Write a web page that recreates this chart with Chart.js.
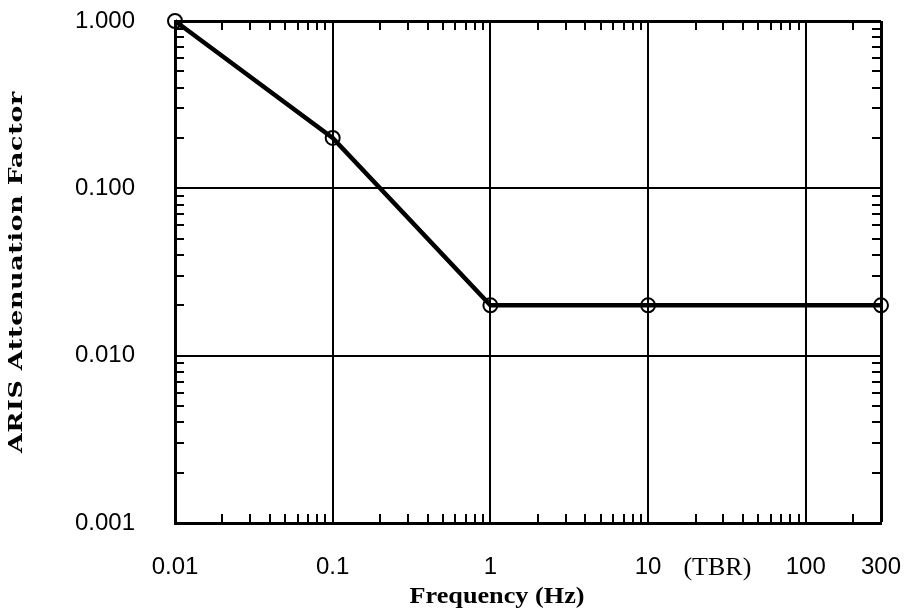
<!DOCTYPE html>
<html>
<head>
<meta charset="utf-8">
<script src="https://cdn.jsdelivr.net/npm/chart.js@4.4.1/dist/chart.umd.min.js"></script>
<style>
  html, body { margin: 0; padding: 0; background: #fff; }
  #wrap { width: 912px; height: 608px; }
</style>
</head>
<body>
<div id="wrap"><canvas id="chart" width="912" height="608"></canvas></div>
<script>
// attenuation factor vs frequency
const freqs = [0.01, 0.1, 1, 10, 300];
const factors = [1, 0.2, 0.02, 0.02, 0.02];

const xTickValues = [0.01, 0.1, 1, 10, 100, 300];
const xTickLabels = ['0.01', '0.1', '1', '10', '100', '300'];
const yTickValues = [1, 0.1, 0.01, 0.001];
const yTickLabels = ['1.000', '0.100', '0.010', '0.001'];

const noteText = '(TBR)';
const noteAt = 27.5;
const xTitle = 'Frequency (Hz)';
const yTitle = 'ARIS Attenuation Factor';

// 2..9 within each decade, kept inside the axis range
function minorTicks(lo, hi) {
    let out = [];
    for (let d = lo; d < hi; d *= 10) {
        for (let k = 2; k <= 9; k++) {
            let v = +(k * d).toPrecision(3);
            if (v < hi) out.push(v);
        }
    }
    return out;
}

const frame = {
    id: 'frame',
    afterDraw(chart) {
        let ctx = chart.ctx;
        let a = chart.chartArea;
        let xs = chart.scales.x, ys = chart.scales.y;
        let len = 9;
        ctx.save();
        ctx.strokeStyle = '#000';
        ctx.lineWidth = 2;
        ctx.beginPath();
        minorTicks(0.01, 300).forEach(v => {
            let px = Math.round(xs.getPixelForValue(v));
            ctx.moveTo(px, a.bottom); ctx.lineTo(px, a.bottom - len);
            ctx.moveTo(px, a.top); ctx.lineTo(px, a.top + len);
        });
        minorTicks(0.001, 1).forEach(v => {
            let py = Math.round(ys.getPixelForValue(v));
            ctx.moveTo(a.left, py); ctx.lineTo(a.left + len, py);
            ctx.moveTo(a.right, py); ctx.lineTo(a.right - len, py);
        });
        ctx.stroke();

        ctx.fillStyle = '#000';
        ctx.textAlign = 'center';
        ctx.textBaseline = 'alphabetic';
        ctx.font = '26px "Liberation Serif", "Times New Roman", serif';
        ctx.fillText(noteText, xs.getPixelForValue(noteAt), 575);

        // axis titles are set wide
        ctx.save();
        ctx.translate(497, 603);
        ctx.scale(1.14, 1);
        ctx.font = 'bold 23px "Liberation Serif", "Times New Roman", serif';
        ctx.fillText(xTitle, 0, 0);
        ctx.restore();

        ctx.translate(22, (a.top + a.bottom) / 2);
        ctx.rotate(-Math.PI / 2);
        ctx.scale(1.33, 1);
        ctx.font = 'bold 19px "DejaVu Serif", serif';
        ctx.letterSpacing = '0.5px';
        ctx.fillText(yTitle, 0, 0);
        ctx.restore();
    }
};

const chart = new Chart(document.getElementById('chart'), {
    type: 'scatter',
    data: {
        datasets: [{
            data: freqs.map((f, i) => ({ x: f, y: factors[i] })),
            showLine: true,
            borderColor: '#000',
            borderWidth: 4.5,
            pointRadius: 7,
            pointHoverRadius: 7,
            pointBorderWidth: 2,
            pointBorderColor: '#000',
            pointBackgroundColor: 'rgba(0,0,0,0)',
            clip: false
        }]
    },
    options: {
        responsive: false,
        animation: false,
        events: [],
        layout: { padding: { top: 21, right: 31, left: 0, bottom: 0 } },
        plugins: { legend: { display: false }, tooltip: { enabled: false } },
        scales: {
            x: {
                type: 'logarithmic',
                min: 0.01,
                max: 300,
                afterBuildTicks: s => { s.ticks = xTickValues.map(v => ({ value: v })); },
                afterFit: s => { s.height = 85; s.paddingLeft = 0; s.paddingRight = 0; },
                ticks: {
                    callback: (v, i) => xTickLabels[i],
                    autoSkip: false,
                    maxRotation: 0,
                    padding: 30,
                    color: '#000',
                    font: { family: '"Liberation Sans", Arial, sans-serif', size: 24 }
                },
                grid: {
                    color: '#000',
                    lineWidth: c => (c.tick && c.tick.value === 300 ? 3 : 2),
                    drawTicks: false
                },
                border: { color: '#000', width: 3 }
            },
            y: {
                type: 'logarithmic',
                min: 0.001,
                max: 1,
                afterBuildTicks: s => { s.ticks = yTickValues.map(v => ({ value: v })); },
                afterFit: s => { s.width = 175; s.paddingTop = 0; s.paddingBottom = 0; },
                ticks: {
                    callback: (v, i) => yTickLabels[i],
                    autoSkip: false,
                    padding: 40,
                    color: '#000',
                    font: { family: '"Liberation Sans", Arial, sans-serif', size: 24 }
                },
                grid: {
                    color: '#000',
                    lineWidth: c => (c.tick && c.tick.value === 1 ? 3 : 2),
                    drawTicks: false
                },
                border: { color: '#000', width: 3 }
            }
        }
    },
    plugins: [frame]
});
</script>
</body>
</html>
